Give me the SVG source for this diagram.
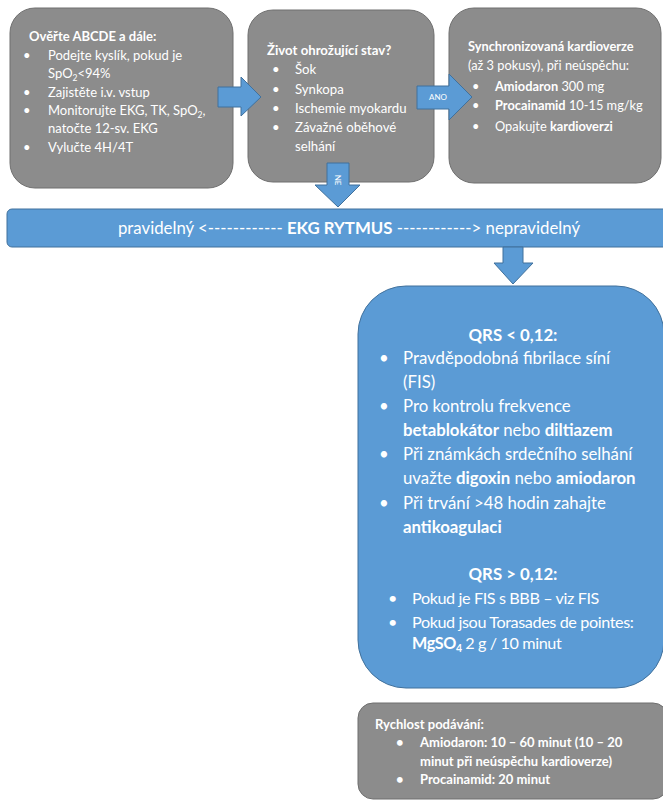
<svg xmlns="http://www.w3.org/2000/svg" width="663" height="800" viewBox="0 0 663 800">
<style>
.g{fill:#8c8c8c;stroke:#6f6f6f;stroke-width:1}
.b{fill:#5b9bd5;stroke:#41719c;stroke-width:1}
.a{fill:#5b9bd5;stroke:#41719c;stroke-width:1}
text{font-family:Lato,"Open Sans","Liberation Sans",sans-serif;fill:#ffffff}
.s{font-size:13px}
.m{font-size:13.2px}
.t{font-size:12.8px}
.l{font-size:16.8px}
.bd{font-weight:bold}
.c{font-size:16.2px;letter-spacing:-0.4px}
</style>
<rect width="663" height="800" fill="#ffffff"/>
<g id="box1">
<rect class="g" x="10" y="8" width="223" height="180" rx="25"/>
<text class="s bd" x="29" y="41">Ověřte ABCDE a dále:</text>
<g class="s">
<text x="23" y="60">•</text><text x="48" y="60">Podejte kyslík, pokud je</text>
<text x="48" y="78">SpO<tspan font-size="8.5" dy="3">2</tspan><tspan dy="-3">&lt;94%</tspan></text>
<text x="23" y="97">•</text><text x="48" y="97">Zajistěte i.v. vstup</text>
<text x="23" y="115">•</text><text x="48" y="115">Monitorujte EKG, TK, SpO<tspan font-size="8.5" dy="3">2</tspan><tspan dy="-3">,</tspan></text>
<text x="48" y="133">natočte 12-sv. EKG</text>
<text x="23" y="152">•</text><text x="48" y="152">Vylučte 4H/4T</text>
</g>
</g>
<g id="box2">
<rect class="g" x="248" y="10" width="186" height="172" rx="25"/>
<text class="m bd" x="267" y="55">Život ohrožující stav?</text>
<g class="m">
<text x="272" y="74">•</text><text x="295" y="74">Šok</text>
<text x="272" y="94">•</text><text x="295" y="94">Synkopa</text>
<text x="272" y="113">•</text><text x="295" y="113">Ischemie myokardu</text>
<text x="272" y="132">•</text><text x="295" y="132">Závažné oběhové</text>
<text x="295" y="151">selhání</text>
</g>
</g>
<g id="box3">
<rect class="g" x="449" y="8" width="212" height="175" rx="25"/>
<text class="t bd" x="468" y="51">Synchronizovaná kardioverze</text>
<text class="t" x="468" y="70">(až 3 pokusy), při neúspěchu:</text>
<g class="t">
<text x="472" y="91">•</text><text x="495" y="91"><tspan class="bd">Amiodaron</tspan> 300 mg</text>
<text x="472" y="110">•</text><text x="495" y="110"><tspan class="bd">Procainamid</tspan> 10-15 mg/kg</text>
<text x="472" y="131">•</text><text x="495" y="131">Opakujte <tspan class="bd">kardioverzi</tspan></text>
</g>
</g>
<g id="banner">
<rect class="b" x="7" y="209" width="670" height="38" rx="5"/>
<text x="349" y="234" text-anchor="middle" font-size="16.8">pravidelný &lt;------------ <tspan font-weight="bold">EKG RYTMUS</tspan>  ------------&gt; nepravidelný</text>
</g>
<g id="irregular">
<rect class="b" x="358" y="286" width="306" height="402" rx="48"/>
<text class="l bd" x="513" y="341" text-anchor="middle">QRS &lt; 0,12:</text>
<g class="l">
<text x="379" y="364">•</text><text x="403" y="364">Pravděpodobná fibrilace síní</text>
<text x="403" y="388">(FIS)</text>
<text x="379" y="412">•</text><text x="403" y="412">Pro kontrolu frekvence</text>
<text x="403" y="436"><tspan class="bd">betablokátor</tspan> nebo <tspan class="bd">diltiazem</tspan></text>
<text x="379" y="460">•</text><text x="403" y="460">Při známkách srdečního selhání</text>
<text x="403" y="484">uvažte <tspan class="bd">digoxin</tspan> nebo <tspan class="bd">amiodaron</tspan></text>
<text x="379" y="509">•</text><text x="403" y="509">Při trvání &gt;48 hodin zahajte</text>
<text x="403" y="533"><tspan class="bd">antikoagulaci</tspan></text>
</g>
<text class="l bd" x="513" y="580" text-anchor="middle">QRS &gt; 0,12:</text>
<g class="c">
<text x="388" y="604">•</text><text x="412" y="604">Pokud je FIS s BBB – viz FIS</text>
<text x="388" y="628">•</text><text x="412" y="628">Pokud jsou Torasades de pointes:</text>
<text x="412" y="649"><tspan font-weight="bold">MgSO</tspan><tspan font-weight="bold" font-size="10.5" dy="3">4</tspan><tspan dy="-3"> 2 g / 10 minut</tspan></text>
</g>
</g>
<g id="rate">
<rect class="g" x="358" y="703" width="310" height="96" rx="15"/>
<g class="s bd">
<text x="375" y="729">Rychlost podávání:</text>
<text x="396" y="747">•</text><text x="420" y="747">Amiodaron: 10 – 60 minut (10 – 20</text>
<text x="420" y="766">minut při neúspěchu kardioverze)</text>
<text x="396" y="784">•</text><text x="420" y="784">Procainamid: 20 minut</text>
</g>
</g>
<g id="connectors">
<polygon class="a" points="218,87 241,87 241,77 261,97 241,116 241,107 218,107"/>
<polygon class="a" points="417,86 449,86 449,74 472,97 449,120 449,109 417,109"/>
<text x="438" y="100" font-size="8" text-anchor="middle">ANO</text>
<polygon class="a" points="327,163 349,163 349,185 360,185 338,207 315,185 327,185"/>
<text x="0" y="0" font-size="8" text-anchor="middle" transform="translate(335,180) rotate(90)">NE</text>
<polygon class="a" points="503,247 523,247 523,263 533,263 513,284 494,263 503,263"/>
</g>
</svg>
